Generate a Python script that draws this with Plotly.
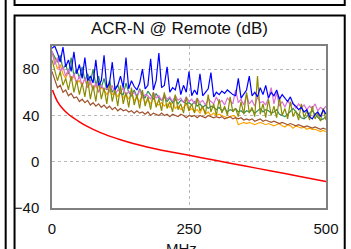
import plotly.graph_objects as go

# ---------------- data ----------------
FREQ_MHZ = list(range(0, 501, 5))  # sweep grid, 101 points

BLUE = [98, 100, 94, 86, 99, 82, 88, 78, 95, 76, 84,
        72, 90, 70, 74, 68, 88, 66, 70, 92, 64,
        68, 86, 62, 66, 74, 64, 90, 63, 70, 65,
        62, 68, 80, 63, 66, 89, 62, 70, 94, 64,
        66, 82, 60, 64, 62, 72, 58, 66, 60, 78,
        57, 62, 58, 76, 57, 60, 63, 77, 56, 60,
        58, 61, 59, 62, 60, 58, 57, 72, 55, 58,
        62, 74, 57, 60, 56, 64, 58, 66, 55, 60,
        57, 62, 54, 58, 55, 52, 56, 50, 48, 45,
        47, 43, 45, 39, 37, 41, 43, 39, 45, 41, 43]

SEAGREEN = [95, 90, 86, 92, 80, 84, 76, 90, 74, 80, 72,
            82, 70, 76, 68, 80, 66, 74, 64, 72, 62,
            70, 60, 64, 66, 59, 58, 68, 60, 57, 62,
            56, 63, 58, 55, 61, 57, 54, 59, 55, 53,
            56, 52, 55, 51, 54, 50, 53, 52, 50, 51,
            49, 52, 48, 50, 47, 49, 46, 48, 47, 45,
            47, 44, 46, 43, 45, 44, 46, 43, 44, 42,
            44, 43, 45, 42, 44, 46, 43, 45, 44, 42,
            43, 45, 41, 40, 39, 41, 44, 46, 43, 40,
            38, 37, 39, 42, 44, 41, 38, 36, 37, 39, 38]

ORANGE = [94, 88, 80, 84, 76, 72, 78, 70, 74, 68, 70,
          66, 72, 64, 68, 62, 66, 60, 64, 62, 58,
          62, 58, 60, 56, 61, 55, 58, 54, 59, 53,
          55, 52, 57, 51, 53, 50, 55, 50, 49, 51,
          48, 50, 47, 52, 46, 48, 45, 47, 50, 44,
          46, 43, 45, 42, 47, 41, 43, 40, 42, 40,
          41, 40, 39, 38, 39, 40, 39, 32, 33, 34,
          33, 34, 33, 32, 33, 34, 33, 32, 33, 32,
          31, 32, 33, 31, 30, 32, 31, 29, 31, 30,
          29, 30, 28, 29, 28, 28, 27, 26, 27, 26, 26]

ORCHID = [96, 84, 90, 78, 82, 74, 80, 70, 76, 68, 74,
          66, 72, 64, 70, 62, 68, 60, 66, 62, 64,
          60, 66, 58, 62, 60, 64, 57, 61, 58, 60,
          56, 62, 55, 58, 57, 54, 60, 55, 57, 53,
          58, 54, 56, 52, 57, 53, 55, 51, 56, 52,
          54, 50, 55, 51, 53, 49, 54, 52, 50, 56,
          51, 53, 49, 55, 52, 50, 62, 51, 54, 49,
          58, 50, 53, 48, 56, 51, 52, 49, 55, 64,
          50, 60, 48, 52, 47, 53, 49, 51, 46, 50,
          47, 49, 45, 48, 46, 50, 44, 47, 45, 48, 46]

OLIVE = [88, 80, 70, 78, 66, 72, 62, 74, 60, 70, 58,
         68, 56, 72, 54, 66, 52, 70, 54, 64, 50,
         68, 52, 62, 48, 66, 50, 60, 47, 64, 49,
         58, 46, 62, 48, 56, 45, 60, 47, 54, 44,
         60, 46, 52, 43, 58, 45, 50, 42, 56, 44,
         50, 42, 55, 44, 48, 41, 58, 43, 50, 40,
         54, 42, 48, 40, 56, 43, 46, 39, 52, 41,
         60, 42, 47, 39, 74, 41, 50, 38, 54, 40,
         48, 38, 56, 40, 46, 37, 52, 39, 44, 36,
         50, 38, 44, 36, 48, 37, 42, 35, 46, 36, 38]

SIENNA = [78, 70, 64, 66, 60, 62, 57, 59, 55, 56, 52,
          54, 51, 53, 49, 51, 48, 50, 47, 49, 46,
          48, 45, 47, 44, 46, 44, 45, 43, 44, 42,
          44, 42, 43, 41, 43, 40, 42, 41, 40, 42,
          40, 41, 39, 41, 40, 39, 41, 40, 38, 40,
          39, 40, 38, 40, 39, 38, 40, 39, 38, 39,
          38, 39, 37, 38, 39, 37, 38, 37, 38, 36,
          37, 36, 37, 35, 36, 37, 35, 36, 35, 34,
          35, 34, 33, 34, 33, 32, 33, 32, 31, 32,
          31, 30, 31, 30, 29, 30, 29, 28, 29, 28, 28]

LIMIT_FREQ = [1, 5, 10, 20, 30, 50, 62.5, 75, 100, 125, 150, 175, 200, 250, 300, 350, 400, 450, 500]
LIMIT_DB = [62, 57, 52, 45.5, 41, 34.5, 31, 28, 23, 19, 15.5, 12.5, 10, 5.5, 1, -3.5, -8, -12.5, -17]

X_TICKS = [0, 250, 500]
Y_TICKS = [-40, 0, 40, 80]
TITLE = "ACR-N @ Remote (dB)"
X_TITLE = "MHz"

# ---------------- layout geometry ----------------
W, H = 351, 249
PL, PR, PT, PB = 52, 330, 46, 210


def px_x(px):
    return (px - PL) / (PR - PL)


def px_y(py):
    return (PB - py) / (PB - PT)


fig = go.Figure()

series = [
    (ORANGE, "#ffa500"),
    (SEAGREEN, "#2e8b57"),
    (ORCHID, "#da70d6"),
    (SIENNA, "#a0522d"),
    (OLIVE, "#8b8b00"),
    (BLUE, "#0000ff"),
]
for vals, col in series:
    fig.add_trace(go.Scatter(x=FREQ_MHZ, y=vals, mode="lines",
                             line=dict(color=col, width=1.2), showlegend=False))

fig.add_trace(go.Scatter(x=LIMIT_FREQ, y=LIMIT_DB, mode="lines",
                         line=dict(color="#ff0000", width=1.5, shape="spline"),
                         showlegend=False))

FONT = "Arial, Liberation Sans, sans-serif"
axis_common = dict(showgrid=True, gridcolor="#b8b8b8", griddash="dot", gridwidth=1,
                   showline=True, linecolor="#808080", linewidth=1.5, mirror=True,
                   zeroline=False, ticks="", tickfont=dict(family=FONT, size=15, color="#111"))

fig.update_xaxes(range=[0, 500], tickvals=X_TICKS, ticklabelstandoff=6, **axis_common)
fig.update_yaxes(range=[-40, 100], tickvals=Y_TICKS, ticklabelstandoff=8, **axis_common)

shape_line = dict(color="black", width=2)
fig.update_layout(
    width=W, height=H,
    margin=dict(l=PL, r=W - PR, t=PT, b=H - PB, pad=0),
    plot_bgcolor="white", paper_bgcolor="white",
    font=dict(family=FONT, color="#111"),
    shapes=[
        dict(type="rect", xref="paper", yref="paper", x0=px_x(-300), x1=px_x(5),
             y0=px_y(300), y1=px_y(-50), line=shape_line),
        dict(type="rect", xref="paper", yref="paper", x0=px_x(14), x1=px_x(349),
             y0=px_y(4.5), y1=px_y(-50), line=shape_line),
        dict(type="rect", xref="paper", yref="paper", x0=px_x(14), x1=px_x(349),
             y0=px_y(300), y1=px_y(15), line=shape_line),
    ],
    annotations=[
        dict(text=TITLE, xref="paper", yref="paper", x=px_x(181), y=px_y(28),
             xanchor="center", yanchor="middle", showarrow=False,
             font=dict(family=FONT, size=17, color="#111")),
        dict(text=X_TITLE, xref="paper", yref="paper", x=px_x(183), y=px_y(240),
             xanchor="center", yanchor="top", showarrow=False,
             font=dict(family=FONT, size=15, color="#111")),
    ],
)

fig.write_html("out.html",
               config={"displayModeBar": False},
               post_script="document.body.style.margin='0';document.body.style.overflow='hidden';")
